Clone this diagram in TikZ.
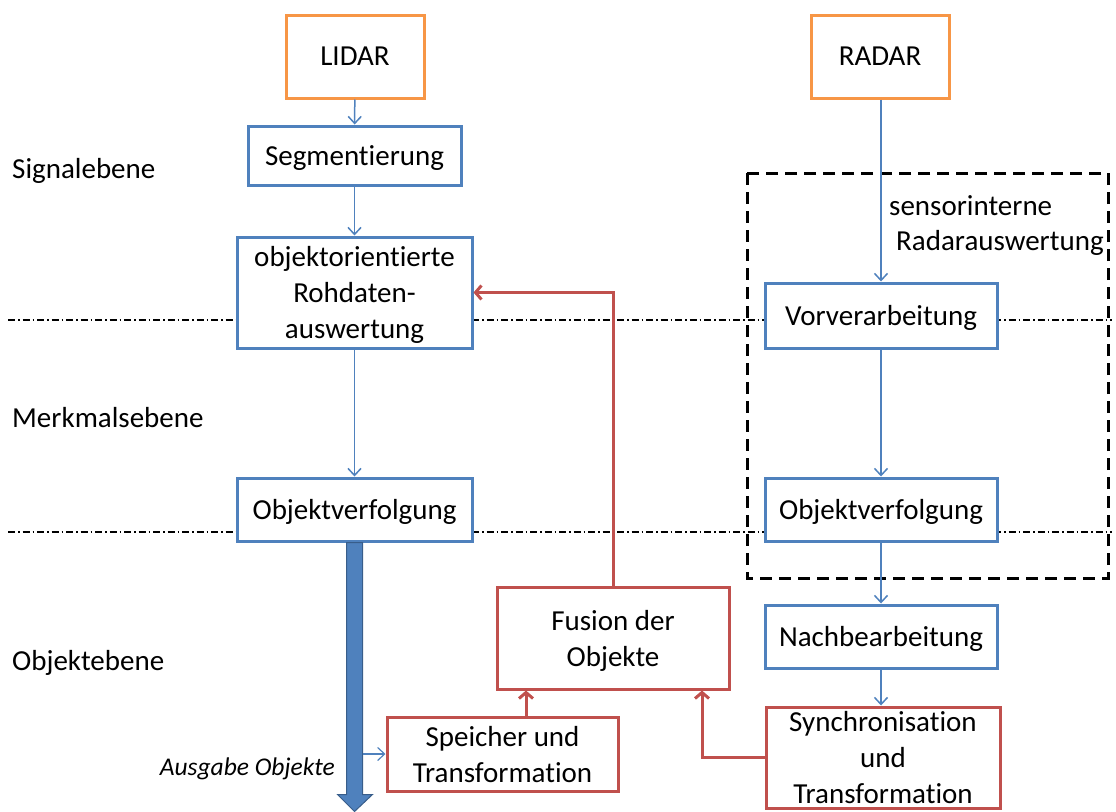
\documentclass[tikz,border=0pt]{standalone}
\usepackage{fontspec}
\setmainfont{Carlito}[Ligatures=NoCommon]
\usetikzlibrary{arrows.meta,calc}
\definecolor{sblue}{HTML}{4F81BD}
\definecolor{sbluedark}{HTML}{385D8A}
\definecolor{sorange}{HTML}{F79646}
\definecolor{sred}{HTML}{C0504D}
\begin{document}
\begin{tikzpicture}[x=1pt,y=-1pt,
  font=\fontsize{29}{36}\selectfont,
  box/.style={draw, line width=3pt, fill=white, align=center, inner sep=0pt, text depth=0pt},
  sensorbox/.style={box, draw=sorange, minimum width=138pt, minimum height=83pt},
  procbox/.style={box, draw=sblue},
  fusebox/.style={box, draw=sred},
  flow/.style={draw=sblue, line width=1.5pt, -{Straight Barb[length=7pt,width=13pt]}},
  fuseflow/.style={draw=sred, line width=3pt, -{Straight Barb[length=6pt,width=14pt]}},
  levelline/.style={line width=1.2pt, dash pattern=on 7pt off 3pt on 1.5pt off 3pt},
  levellabel/.style={anchor=base west, inner sep=0pt},
  groupframe/.style={line width=3pt, dash pattern=on 12pt off 7pt}
]
\useasboundingbox (0,0) rectangle (1116,811);

% level separators
\draw[levelline] (8,320) -- (1112,320);
\draw[levelline] (8,532) -- (1112,532);

% level names
\node[levellabel] (lsig) at (12,178) {Signalebene};
\node[levellabel] (lmerk) at (12,427) {Merkmalsebene};
\node[levellabel] (lobj) at (12,670) {Objektebene};

% sensors
\node[sensorbox] (lidar) at (355,56.5) {LIDAR};
\node[sensorbox] (radar) at (880,56.5) {RADAR};

% LIDAR chain
\node[procbox, minimum width=213pt, minimum height=59pt] (seg) at (354.5,155.5) {Segmentierung};
\node[procbox, minimum width=235pt, minimum height=111pt] (roh) at (354.5,292.5) {objektorientierte\\Rohdaten-\\auswertung};
\node[procbox, minimum width=235pt, minimum height=63pt] (trackl) at (354.5,509.5) {Objektverfolgung};

% RADAR chain
\node[procbox, minimum width=232pt, minimum height=65pt] (vor) at (881,315.5) {Vorverarbeitung};
\node[procbox, minimum width=232pt, minimum height=63pt] (trackr) at (881,509.5) {Objektverfolgung};
\node[procbox, minimum width=232pt, minimum height=63pt] (nach) at (881,636.5) {Nachbearbeitung};
\node[fusebox, minimum width=234pt, minimum height=101pt] (sync) at (883,757.5) {Synchronisation\\und\\Transformation};

% fusion
\node[fusebox, minimum width=232pt, minimum height=102pt] (fus) at (613,638) {Fusion der\\Objekte};
\node[fusebox, minimum width=231pt, minimum height=74pt] (spe) at (502.5,754) {Speicher und\\Transformation};

% sensor-internal radar processing
\draw[groupframe] (747,173) rectangle (1108,578);
\node[anchor=base west, inner sep=0pt] (intern1) at (889,215) {sensorinterne};
\node[anchor=base west, inner sep=0pt] (intern2) at (896,250) {Radarauswertung};

% connectors
\draw[flow] (lidar) -- (seg);
\draw[flow] (seg) -- (roh);
\draw[flow] (roh) -- (trackl);
\draw[flow] (radar.south -| vor.north) -- (vor.north);
\draw[flow] (vor) -- (trackr);
\draw[flow] (trackr) -- (nach);
\draw[flow] (nach) -- (sync.north -| nach.south);

% object output arrow
\coordinate (outtop) at (trackl.south);
\filldraw[fill=sblue, draw=sbluedark, line width=1pt]
  ($(outtop)+(-8,0)$) -- ($(outtop)+(8,0)$) -- ($(outtop)+(8,252)$) -- ($(outtop)+(18,252)$)
  -- ($(outtop)+(0,269)$) -- ($(outtop)+(-17,252)$) -- ($(outtop)+(-8,252)$) -- cycle;
\coordinate (outside) at ($(outtop)+(8,0)$);
\draw[flow, line width=1.2pt] (outside |- spe.west) -- (spe.west);
\node[anchor=base east, inner sep=0pt, font=\fontsize{25.5}{31}\selectfont\itshape] (outlabel) at (335,775) {Ausgabe Objekte};

% fusion feedback
\coordinate (spex) at (526,0);
\coordinate (syncx) at (702,0);
\draw[fuseflow] (spe.north -| spex) -- (fus.south -| spex);
\draw[fuseflow] (sync.west) -| (fus.south -| syncx);
\draw[fuseflow] (fus.north) |- (roh.east);
\end{tikzpicture}
\end{document}
